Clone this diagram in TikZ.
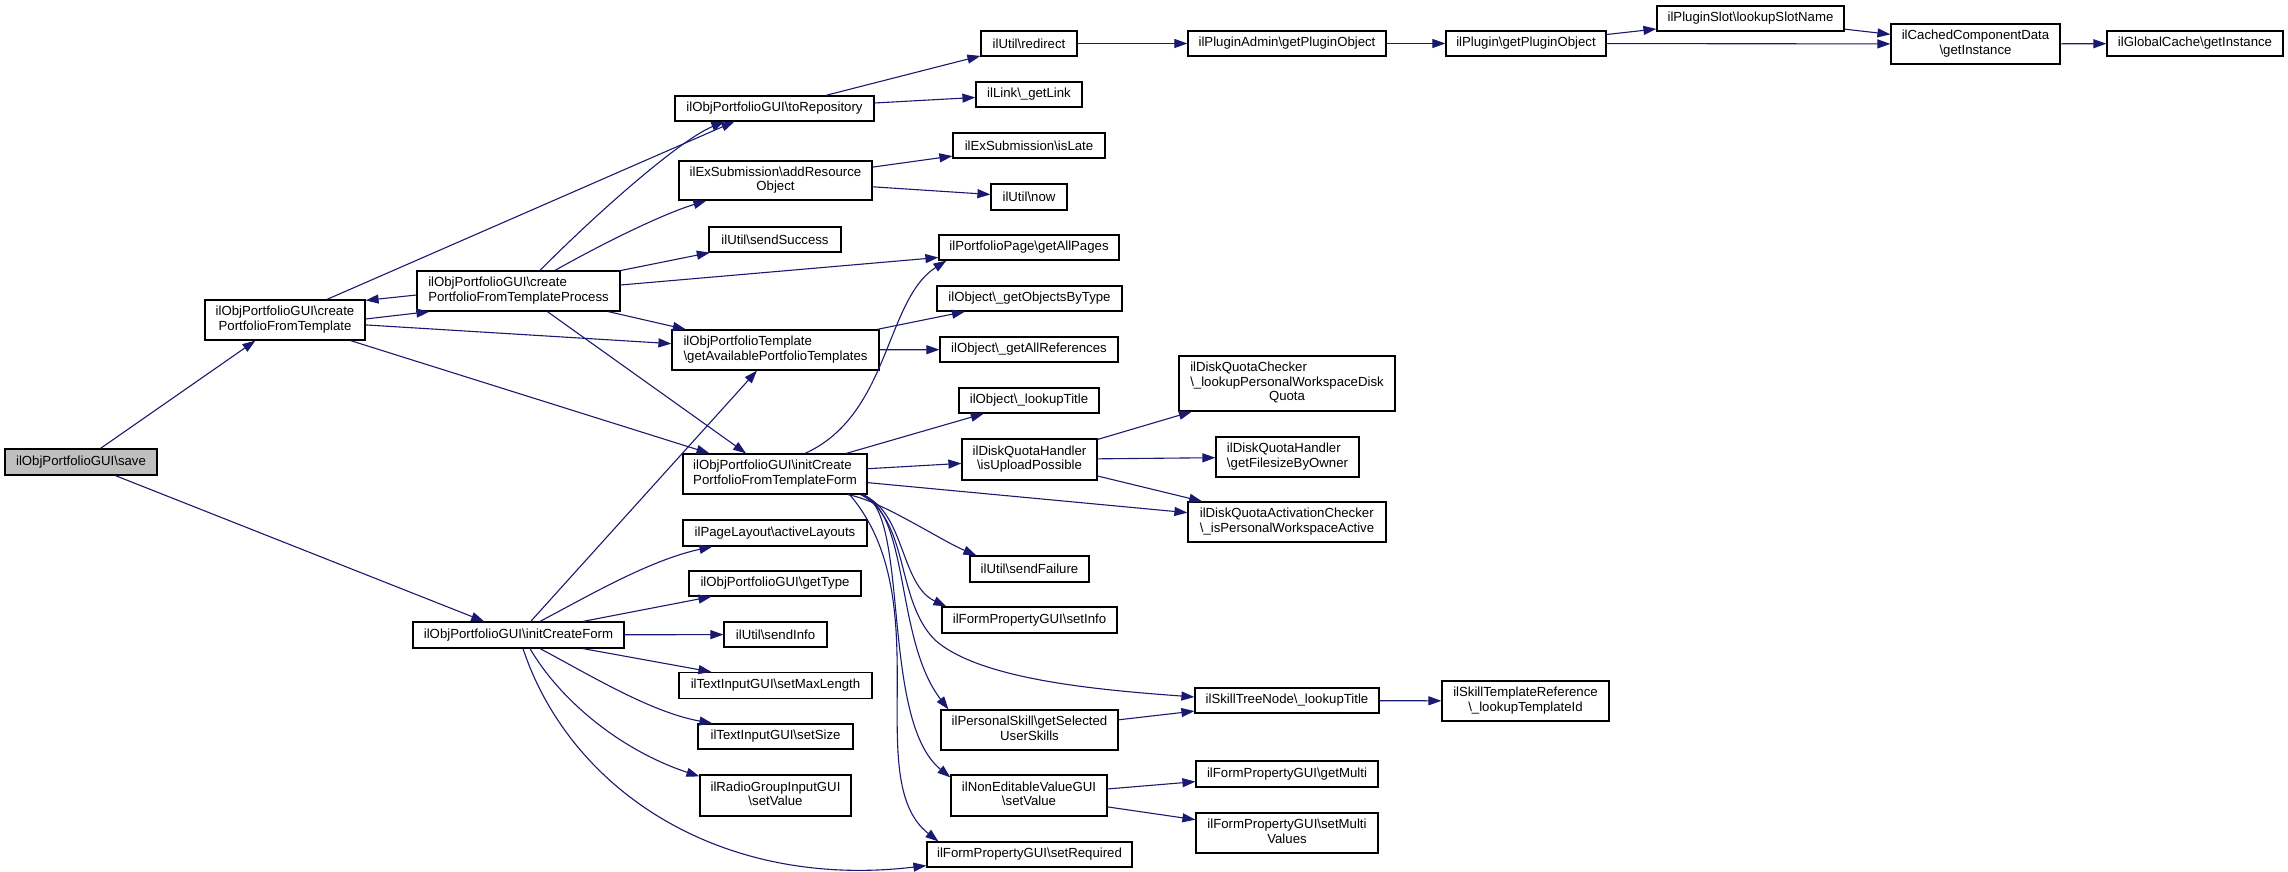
\documentclass[tikz,border=0pt]{standalone}
\usepackage{fontspec}
\setmainfont{Liberation Sans}
\usetikzlibrary{arrows.meta}
\definecolor{edgeblue}{HTML}{191970}
\definecolor{savefill}{HTML}{BFBFBF}
\newcommand{\twol}[2]{\begin{tabular}{@{}l@{}}#1\\\multicolumn{1}{@{}c@{}}{#2}\end{tabular}}
\newcommand{\bs}{\textbackslash}
\begin{document}
\begin{tikzpicture}[x=1pt,y=-1pt,
  box/.style={draw=black, line width=1.2pt, fill=white, inner sep=0pt, text=black,
    font=\fontsize{13.2}{14.5}\selectfont},
  ca/.style={draw=edgeblue, line width=1.1pt, -{Triangle[length=13pt,width=9pt,fill=edgeblue]}}]
\useasboundingbox (0,0) rectangle (2288,872);
% nodes
\node[box, fill=savefill, minimum width=152pt, minimum height=26pt] (save) at (81,462) {ilObjPortfolioGUI\bs save};
\node[box, minimum width=160pt, minimum height=40pt] (cpft) at (285,320) {\twol{ilObjPortfolioGUI\bs create}{PortfolioFromTemplate}};
\node[box, minimum width=203pt, minimum height=40pt] (cpftp) at (518.5,291) {\twol{ilObjPortfolioGUI\bs create}{PortfolioFromTemplateProcess}};
\node[box, minimum width=211pt, minimum height=26pt] (icf) at (518.5,635) {ilObjPortfolioGUI\bs initCreateForm};
\node[box, minimum width=199pt, minimum height=25pt] (torep) at (774.5,108.5) {ilObjPortfolioGUI\bs toRepository};
\node[box, minimum width=193pt, minimum height=39pt] (addres) at (775.5,180.5) {\twol{ilExSubmission\bs addResource}{Object}};
\node[box, minimum width=132pt, minimum height=25pt] (sendsuccess) at (775,239.5) {ilUtil\bs sendSuccess};
\node[box, minimum width=207pt, minimum height=40pt] (gapt) at (775.5,350) {\twol{ilObjPortfolioTemplate}{\bs getAvailablePortfolioTemplates}};
\node[box, minimum width=184pt, minimum height=40pt] (icpftf) at (775,474) {\twol{ilObjPortfolioGUI\bs initCreate}{PortfolioFromTemplateForm}};
\node[box, minimum width=184pt, minimum height=26pt] (activelayouts) at (775,533) {ilPageLayout\bs activeLayouts};
\node[box, minimum width=172pt, minimum height=25pt] (gettype) at (775,583.5) {ilObjPortfolioGUI\bs getType};
\node[box, minimum width=103pt, minimum height=25pt] (sendinfo) at (775.5,634.5) {ilUtil\bs sendInfo};
\node[box, minimum width=193pt, minimum height=26pt] (setmaxlength) at (775.5,685.5) {ilTextInputGUI\bs setMaxLength};
\node[box, minimum width=155pt, minimum height=25pt] (setsize) at (775.5,736.5) {ilTextInputGUI\bs setSize};
\node[box, minimum width=151pt, minimum height=41pt] (radio) at (775.5,795.5) {\twol{ilRadioGroupInputGUI}{\bs setValue}};
\node[box, minimum width=96pt, minimum height=25pt] (redirect) at (1029,43.5) {ilUtil\bs redirect};
\node[box, minimum width=106pt, minimum height=25pt] (getlink) at (1029,94.5) {ilLink\bs\_getLink};
\node[box, minimum width=152pt, minimum height=25pt] (islate) at (1029,145.5) {ilExSubmission\bs isLate};
\node[box, minimum width=76pt, minimum height=26pt] (now) at (1029,197) {ilUtil\bs now};
\node[box, minimum width=180pt, minimum height=25pt] (getallpages) at (1029,247.5) {ilPortfolioPage\bs getAllPages};
\node[box, minimum width=185pt, minimum height=25pt] (getobjbytype) at (1029.5,298.5) {ilObject\bs\_getObjectsByType};
\node[box, minimum width=178pt, minimum height=25pt] (getallrefs) at (1029,349.5) {ilObject\bs\_getAllReferences};
\node[box, minimum width=140pt, minimum height=25pt] (objlookup) at (1029,400.5) {ilObject\bs\_lookupTitle};
\node[box, minimum width=135pt, minimum height=41pt] (isupload) at (1029.5,459.5) {\twol{ilDiskQuotaHandler}{\bs isUploadPossible}};
\node[box, minimum width=119pt, minimum height=26pt] (sendfailure) at (1029.5,569) {ilUtil\bs sendFailure};
\node[box, minimum width=175pt, minimum height=26pt] (setinfo) at (1029.5,620) {ilFormPropertyGUI\bs setInfo};
\node[box, minimum width=177pt, minimum height=40pt] (getselected) at (1029.5,730) {\twol{ilPersonalSkill\bs getSelected}{UserSkills}};
\node[box, minimum width=156pt, minimum height=41pt] (nonedit) at (1029,795.5) {\twol{ilNonEditableValueGUI}{\bs setValue}};
\node[box, minimum width=205pt, minimum height=25pt] (setrequired) at (1029.5,854.5) {ilFormPropertyGUI\bs setRequired};
\node[box, minimum width=198pt, minimum height=25pt] (pluginadmin) at (1287,43.5) {ilPluginAdmin\bs getPluginObject};
\node[box, minimum width=160pt, minimum height=25pt] (plugin) at (1526,43.5) {ilPlugin\bs getPluginObject};
\node[box, minimum width=216pt, minimum height=55pt] (dqchecker) at (1287,383.5) {\begin{tabular}{@{}l@{}}ilDiskQuotaChecker\\\bs\_lookupPersonalWorkspaceDisk\\\multicolumn{1}{@{}c@{}}{Quota}\end{tabular}};
\node[box, minimum width=143pt, minimum height=40pt] (filesize) at (1287.5,457) {\twol{ilDiskQuotaHandler}{\bs getFilesizeByOwner}};
\node[box, minimum width=198pt, minimum height=40pt] (activation) at (1287,522) {\twol{ilDiskQuotaActivationChecker}{\bs\_isPersonalWorkspaceActive}};
\node[box, minimum width=184pt, minimum height=25pt] (skillnode) at (1287,700.5) {ilSkillTreeNode\bs\_lookupTitle};
\node[box, minimum width=167pt, minimum height=40pt] (skilltemplate) at (1525.5,701) {\twol{ilSkillTemplateReference}{\bs\_lookupTemplateId}};
\node[box, minimum width=182pt, minimum height=26pt] (getmulti) at (1287,774) {ilFormPropertyGUI\bs getMulti};
\node[box, minimum width=182pt, minimum height=40pt] (setmulti) at (1287,833) {\twol{ilFormPropertyGUI\bs setMulti}{Values}};
\node[box, minimum width=187pt, minimum height=25pt] (slotname) at (1750.5,18.5) {ilPluginSlot\bs lookupSlotName};
\node[box, minimum width=169pt, minimum height=40pt] (cached) at (1975.5,44) {\twol{ilCachedComponentData}{\bs getInstance}};
\node[box, minimum width=176pt, minimum height=25pt] (globalcache) at (2195,43.5) {ilGlobalCache\bs getInstance};
% edges
\draw[ca] (save) -- (cpft);
\draw[ca] (save) -- (icf);
\draw[ca] ([xshift=42pt]cpft.north) -- ([xshift=60pt]torep.south west);
\draw[ca] ([yshift=1pt]cpft.east) -- ([xshift=13pt]cpftp.south west);
\draw[ca] ([yshift=-4pt]cpftp.west) -- ([yshift=-1pt]cpft.north east);
\draw[ca] (cpft) -- (gapt);
\draw[ca] (cpft) -- (icpftf);
\draw[ca] ([xshift=21.5pt]cpftp.north) .. controls (600,210) and (680,140) .. ([xshift=50pt]torep.south west);
\draw[ca] ([xshift=36.5pt]cpftp.north) .. controls (600,245) and (660,215) .. ([xshift=28pt]addres.south west);
\draw[ca] (cpftp) -- (sendsuccess);
\draw[ca] ([yshift=6pt]cpftp.east) -- ([yshift=-10pt]getallpages.west);
\draw[ca] (cpftp) -- (gapt);
\draw[ca] (cpftp) -- (icpftf);
\draw[ca] (torep) -- (redirect);
\draw[ca] (torep) -- (getlink);
\draw[ca] (addres) -- (islate);
\draw[ca] (addres) -- (now);
\draw[ca] (gapt) -- (getobjbytype);
\draw[ca] (gapt) -- (getallrefs);
\draw[ca] (icf) -- (gapt);
\draw[ca] ([xshift=30pt]icpftf.north) .. controls (890,415) and (885,300) .. ([xshift=8pt]getallpages.south west);
\draw[ca] (icpftf) -- (objlookup);
\draw[ca] (icpftf) -- (isupload);
\draw[ca] (icpftf) -- (activation);
\draw[ca] ([xshift=-20pt]icpftf.south east) .. controls (880,500) and (940,540) .. ([xshift=7pt]sendfailure.north west);
\draw[ca] ([xshift=-6pt]icpftf.south east) .. controls (905,510) and (900,585) .. ([xshift=5pt]setinfo.north west);
\draw[ca] ([xshift=-7pt]icpftf.south east) .. controls (910,520) and (895,600) .. (935,640) .. controls (980,680) and (1100,690) .. ([yshift=3.5pt]skillnode.west);
\draw[ca] ([xshift=-5pt]icpftf.south east) .. controls (910,515) and (895,640) .. ([xshift=8pt]getselected.north west);
\draw[ca] ([xshift=-4pt]icpftf.south east) .. controls (910,515) and (880,720) .. ([yshift=-3pt]nonedit.north west);
\draw[ca] ([xshift=-18pt]icpftf.south east) .. controls (940,600) and (860,780) .. ([xshift=12pt]setrequired.north west);
\draw[ca] ([xshift=21.5pt]icf.north) .. controls (590,595) and (650,560) .. ([xshift=30pt]activelayouts.south west);
\draw[ca] ([xshift=64.5pt]icf.north) -- ([xshift=23pt]gettype.south west);
\draw[ca] (icf) -- (sendinfo);
\draw[ca] ([xshift=64.5pt]icf.south) -- ([xshift=33pt]setmaxlength.north west);
\draw[ca] ([xshift=21.5pt]icf.south) .. controls (590,675) and (650,712) .. ([xshift=15pt]setsize.north west);
\draw[ca] ([xshift=11.5pt]icf.south) .. controls (560,700) and (620,750) .. ([yshift=-2pt]radio.north west);
\draw[ca] ([xshift=4.5pt]icf.south) .. controls (570,790) and (720,890) .. ([yshift=2pt]setrequired.south west);
\draw[ca] (redirect) -- (pluginadmin);
\draw[ca] (pluginadmin) -- (plugin);
\draw[ca] (plugin) -- (slotname);
\draw[ca] (plugin) -- (cached);
\draw[ca] (slotname) -- (cached);
\draw[ca] (cached) -- (globalcache);
\draw[ca] (isupload) -- (dqchecker);
\draw[ca] (isupload) -- (filesize);
\draw[ca] (isupload) -- (activation);
\draw[ca] (skillnode) -- (skilltemplate);
\draw[ca] (getselected) -- (skillnode);
\draw[ca] (nonedit) -- (getmulti);
\draw[ca] (nonedit) -- (setmulti);
\end{tikzpicture}
\end{document}
